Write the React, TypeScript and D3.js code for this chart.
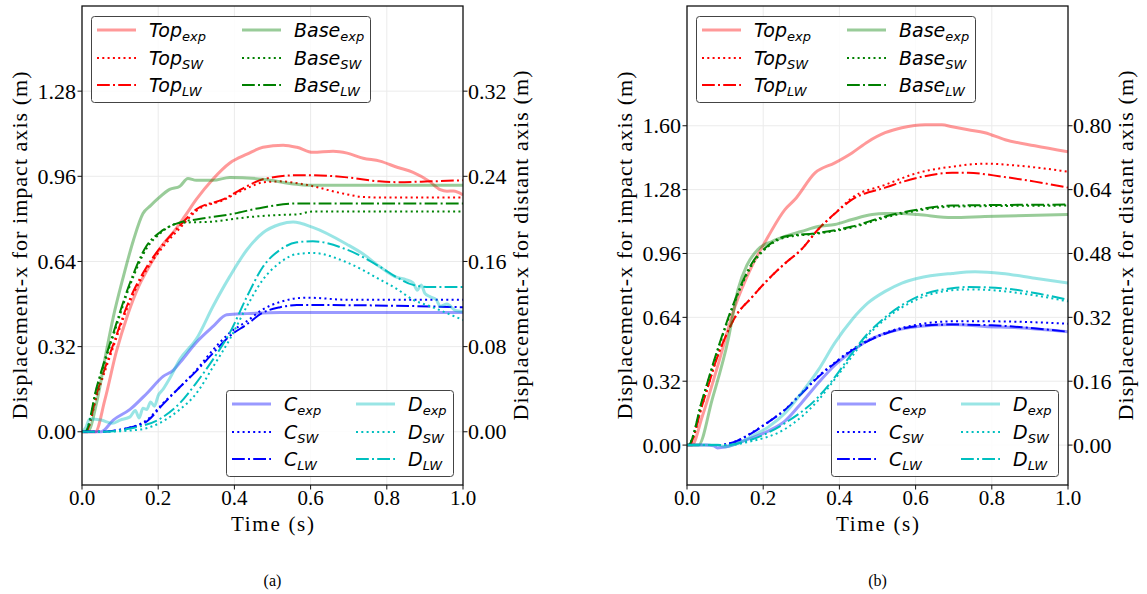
import React from 'react';
import * as d3 from 'd3';

type Pt = [number, number];

// ---------- ticks ----------
const xTicks = [0, 0.2, 0.4, 0.6, 0.8, 1.0];
const aImpactTicks = [0, 0.32, 0.64, 0.96, 1.28];
const aDistantTicks = [0, 0.08, 0.16, 0.24, 0.32];
const bImpactTicks = [0, 0.32, 0.64, 0.96, 1.28, 1.6];
const bDistantTicks = [0, 0.16, 0.32, 0.48, 0.64, 0.8];
const aImpactDomain: Pt = [-0.2, 1.6];
const aDistantDomain: Pt = [-0.05, 0.4];
const bImpactDomain: Pt = [-0.2, 2.2];
const bDistantDomain: Pt = [-0.1, 1.1];

// ---------- panel (a) : impact axis ----------
const aTopExp: Pt[] = [[0,0],[0.035,0],[0.06,0.12],[0.09,0.3],[0.12,0.44],[0.15,0.55],[0.18,0.63],[0.21,0.70],[0.24,0.75],[0.27,0.81],[0.3,0.873],[0.344,0.95],[0.388,1.01],[0.433,1.043],[0.475,1.069],[0.528,1.077],[0.564,1.069],[0.606,1.05],[0.659,1.054],[0.696,1.047],[0.738,1.028],[0.782,1.017],[0.827,0.994],[0.869,0.975],[0.913,0.94],[0.94,0.91],[0.958,0.904],[0.975,0.905],[1.0,0.89]];
const aTopSW: Pt[] = [[0,0],[0.01,0],[0.04,0.14],[0.08,0.31],[0.126,0.49],[0.17,0.61],[0.21,0.69],[0.26,0.77],[0.3,0.83],[0.37,0.87],[0.433,0.915],[0.475,0.937],[0.52,0.941],[0.56,0.935],[0.606,0.923],[0.65,0.907],[0.696,0.892],[0.74,0.882],[0.8,0.88],[1.0,0.88]];
const aTopLW: Pt[] = [[0,0],[0.01,0],[0.04,0.15],[0.08,0.32],[0.126,0.50],[0.17,0.62],[0.21,0.70],[0.26,0.78],[0.3,0.836],[0.37,0.873],[0.433,0.923],[0.475,0.949],[0.564,0.964],[0.606,0.964],[0.696,0.956],[0.78,0.941],[0.827,0.938],[0.913,0.941],[1.0,0.945]];
const aBaseExp: Pt[] = [[0,0],[0.015,0],[0.04,0.12],[0.065,0.31],[0.082,0.43],[0.108,0.58],[0.135,0.72],[0.16,0.82],[0.18,0.85],[0.197,0.873],[0.23,0.911],[0.257,0.923],[0.278,0.952],[0.3,0.945],[0.344,0.945],[0.388,0.956],[0.475,0.949],[0.564,0.93],[0.606,0.926],[1.0,0.926]];
const aBaseSW: Pt[] = [[0,0],[0.008,0],[0.039,0.165],[0.082,0.36],[0.126,0.55],[0.17,0.69],[0.205,0.745],[0.257,0.785],[0.344,0.79],[0.433,0.806],[0.52,0.815],[0.564,0.817],[0.606,0.828],[1.0,0.828]];
const aBaseLW: Pt[] = [[0,0],[0.008,0],[0.039,0.17],[0.082,0.37],[0.126,0.56],[0.17,0.70],[0.205,0.75],[0.257,0.787],[0.3,0.798],[0.388,0.817],[0.475,0.843],[0.564,0.858],[1.0,0.858]];
// ---------- panel (a) : distant axis ----------
const aCExp: Pt[] = [[0,0],[0.05,0],[0.082,0.011],[0.126,0.021],[0.17,0.036],[0.213,0.052],[0.24,0.058],[0.257,0.065],[0.3,0.084],[0.344,0.099],[0.38,0.110],[0.433,0.111],[0.52,0.112],[1.0,0.112]];
const aCSW: Pt[] = [[0,0],[0.04,0],[0.126,0.004],[0.17,0.011],[0.213,0.027],[0.257,0.042],[0.3,0.058],[0.344,0.077],[0.388,0.093],[0.433,0.104],[0.475,0.115],[0.52,0.122],[0.59,0.126],[0.7,0.124],[1.0,0.124]];
const aCLW: Pt[] = [[0,0],[0.04,0],[0.126,0.004],[0.17,0.0097],[0.213,0.026],[0.257,0.042],[0.3,0.057],[0.344,0.074],[0.388,0.09],[0.433,0.101],[0.475,0.112],[0.52,0.117],[0.564,0.119],[0.65,0.119],[1.0,0.117]];
const aDExp: Pt[] = [[0,0],[0.01,0.004],[0.02,0.012],[0.05,0.011],[0.08,0.008],[0.1,0.011],[0.126,0.014],[0.14,0.02],[0.15,0.013],[0.16,0.022],[0.17,0.021],[0.18,0.028],[0.19,0.024],[0.2,0.034],[0.213,0.04],[0.23,0.05],[0.257,0.068],[0.3,0.087],[0.344,0.118],[0.388,0.146],[0.433,0.171],[0.475,0.187],[0.52,0.195],[0.554,0.197],[0.606,0.192],[0.696,0.176],[0.738,0.167],[0.782,0.155],[0.827,0.145],[0.85,0.143],[0.869,0.14],[0.88,0.133],[0.89,0.138],[0.9,0.13],[0.913,0.127],[0.93,0.124],[0.94,0.118],[0.958,0.12],[0.98,0.114],[1.0,0.113]];
const aDSW: Pt[] = [[0,0],[0.05,0],[0.15,0.002],[0.213,0.01],[0.257,0.021],[0.3,0.036],[0.344,0.061],[0.388,0.087],[0.433,0.118],[0.475,0.143],[0.52,0.159],[0.564,0.167],[0.606,0.168],[0.696,0.159],[0.782,0.143],[0.827,0.134],[0.869,0.124],[0.913,0.118],[1.0,0.105]];
const aDLW: Pt[] = [[0,0],[0.05,0],[0.126,0.003],[0.213,0.014],[0.257,0.027],[0.3,0.046],[0.344,0.068],[0.388,0.093],[0.433,0.127],[0.475,0.155],[0.52,0.171],[0.564,0.178],[0.606,0.179],[0.696,0.171],[0.782,0.155],[0.827,0.145],[0.869,0.138],[0.913,0.136],[1.0,0.136]];

// ---------- panel (b) : impact axis ----------
const bTopExp: Pt[] = [[0,0],[0.013,0],[0.04,0.143],[0.08,0.393],[0.126,0.694],[0.17,0.895],[0.213,1.045],[0.257,1.18],[0.283,1.23],[0.336,1.364],[0.388,1.414],[0.433,1.464],[0.475,1.52],[0.52,1.565],[0.564,1.59],[0.625,1.605],[0.669,1.605],[0.696,1.595],[0.738,1.58],[0.782,1.565],[0.835,1.53],[0.913,1.50],[1.0,1.47]];
const bTopSW: Pt[] = [[0,0],[0.005,0],[0.04,0.2],[0.085,0.47],[0.11,0.58],[0.126,0.64],[0.17,0.74],[0.213,0.83],[0.257,0.91],[0.3,0.98],[0.344,1.08],[0.388,1.16],[0.433,1.239],[0.52,1.304],[0.606,1.364],[0.696,1.395],[0.782,1.41],[0.869,1.40],[1.0,1.37]];
const bTopLW: Pt[] = [[0,0],[0.005,0],[0.04,0.2],[0.085,0.47],[0.11,0.58],[0.126,0.64],[0.17,0.74],[0.213,0.83],[0.257,0.91],[0.3,0.98],[0.344,1.08],[0.388,1.16],[0.433,1.23],[0.52,1.29],[0.606,1.34],[0.696,1.364],[0.738,1.364],[0.827,1.345],[0.913,1.32],[1.0,1.29]];
const bBaseExp: Pt[] = [[0,0],[0.03,0],[0.066,0.228],[0.108,0.528],[0.134,0.78],[0.157,0.90],[0.186,0.98],[0.223,1.02],[0.257,1.045],[0.3,1.07],[0.344,1.095],[0.388,1.105],[0.433,1.13],[0.486,1.155],[0.52,1.16],[0.564,1.16],[0.606,1.155],[0.696,1.14],[0.782,1.145],[1.0,1.155]];
const bBaseSW: Pt[] = [[0,0],[0.003,0],[0.04,0.225],[0.08,0.47],[0.126,0.72],[0.17,0.9],[0.213,0.995],[0.257,1.04],[0.344,1.06],[0.433,1.09],[0.52,1.14],[0.606,1.175],[0.696,1.195],[1.0,1.2]];
const bBaseLW: Pt[] = [[0,0],[0.003,0],[0.04,0.228],[0.08,0.478],[0.126,0.728],[0.17,0.91],[0.213,1.0],[0.257,1.045],[0.344,1.063],[0.433,1.095],[0.52,1.145],[0.606,1.18],[0.696,1.20],[1.0,1.205]];
// ---------- panel (b) : distant axis ----------
const bCExp: Pt[] = [[0,0],[0.05,0],[0.07,-0.002],[0.08,-0.007],[0.1,-0.005],[0.13,0.004],[0.17,0.018],[0.213,0.035],[0.257,0.06],[0.3,0.105],[0.344,0.155],[0.388,0.2],[0.433,0.235],[0.475,0.262],[0.52,0.28],[0.606,0.297],[0.696,0.302],[0.782,0.297],[0.869,0.294],[1.0,0.284]];
const bCSW: Pt[] = [[0,0],[0.08,0],[0.13,0.01],[0.17,0.031],[0.213,0.058],[0.257,0.089],[0.3,0.13],[0.344,0.172],[0.388,0.207],[0.433,0.239],[0.52,0.281],[0.606,0.302],[0.696,0.31],[0.8,0.31],[1.0,0.304]];
const bCLW: Pt[] = [[0,0],[0.08,0],[0.13,0.01],[0.17,0.03],[0.213,0.057],[0.257,0.088],[0.3,0.128],[0.344,0.17],[0.388,0.205],[0.433,0.237],[0.52,0.279],[0.606,0.298],[0.696,0.302],[0.8,0.3],[1.0,0.284]];
const bDExp: Pt[] = [[0,0],[0.08,0],[0.1,-0.004],[0.13,0.003],[0.17,0.022],[0.213,0.045],[0.257,0.080],[0.3,0.13],[0.344,0.187],[0.388,0.256],[0.433,0.314],[0.475,0.356],[0.52,0.385],[0.564,0.406],[0.606,0.418],[0.696,0.43],[0.756,0.434],[0.827,0.43],[0.913,0.418],[1.0,0.406]];
const bDSW: Pt[] = [[0,0],[0.1,0],[0.17,0.01],[0.257,0.04],[0.344,0.112],[0.388,0.165],[0.433,0.222],[0.475,0.275],[0.52,0.315],[0.606,0.366],[0.696,0.388],[0.738,0.39],[0.827,0.386],[0.913,0.375],[1.0,0.36]];
const bDLW: Pt[] = [[0,0],[0.1,0],[0.17,0.014],[0.257,0.055],[0.344,0.12],[0.388,0.17],[0.433,0.23],[0.475,0.28],[0.52,0.32],[0.606,0.372],[0.696,0.393],[0.738,0.396],[0.827,0.393],[0.913,0.381],[1.0,0.364]];

type Kind = 'exp' | 'sw' | 'lw';
interface Series { name: string; sub: string; color: string; kind: Kind; axis: 'impact' | 'distant'; data: Pt[]; }

const RED = '#ff0000', GREEN = '#008000', BLUE = '#0000ff', CYAN = '#00bfbf';

function mk(name: string, color: string, exp: Pt[], sw: Pt[], lw: Pt[], axis: 'impact' | 'distant'): Series[] {
  return [
    { name, sub: 'exp', color, kind: 'exp', axis, data: exp },
    { name, sub: 'SW', color, kind: 'sw', axis, data: sw },
    { name, sub: 'LW', color, kind: 'lw', axis, data: lw },
  ];
}

const seriesA = {
  upper: [...mk('Top', RED, aTopExp, aTopSW, aTopLW, 'impact'), ...mk('Base', GREEN, aBaseExp, aBaseSW, aBaseLW, 'impact')],
  lower: [...mk('C', BLUE, aCExp, aCSW, aCLW, 'distant'), ...mk('D', CYAN, aDExp, aDSW, aDLW, 'distant')],
};
const seriesB = {
  upper: [...mk('Top', RED, bTopExp, bTopSW, bTopLW, 'impact'), ...mk('Base', GREEN, bBaseExp, bBaseSW, bBaseLW, 'impact')],
  lower: [...mk('C', BLUE, bCExp, bCSW, bCLW, 'distant'), ...mk('D', CYAN, bDExp, bDSW, bDLW, 'distant')],
};

function styleOf(s: Series) {
  if (s.kind === 'exp') return { stroke: s.color, strokeOpacity: 0.4, strokeWidth: 3, strokeDasharray: undefined as string | undefined };
  if (s.kind === 'sw') return { stroke: s.color, strokeOpacity: 1, strokeWidth: 2, strokeDasharray: '2,3.3' };
  return { stroke: s.color, strokeOpacity: 1, strokeWidth: 2, strokeDasharray: '12.8,3.2,2,3.2' };
}

const SERIF = 'Liberation Serif, Times New Roman, serif';
const SANS = 'DejaVu Sans, sans-serif';

function Legend({ items, bx, by, bw, col2Line, col2Text }: { items: Series[]; bx: number; by: number; bw: number; col2Line: number; col2Text: number }) {
  const rows = [14, 42, 69];
  const bh = 86;
  return (
    <g>
      <rect x={bx + 0.5} y={by + 0.5} width={bw} height={bh} rx={3} ry={3} fill="#fff" fillOpacity={0.85} stroke="#444" strokeWidth={1} />
      {items.map((s, i) => {
        const col = Math.floor(i / 3);
        const row = i % 3;
        const lx = bx + (col === 0 ? 6 : col2Line);
        const tx = bx + (col === 0 ? 58 : col2Text);
        const ly = by + rows[row];
        const st = styleOf(s);
        return (
          <g key={i}>
            <line x1={lx} x2={lx + 39} y1={ly} y2={ly} stroke={st.stroke} strokeOpacity={st.strokeOpacity} strokeWidth={st.strokeWidth} strokeDasharray={st.strokeDasharray} />
            <text x={tx} y={ly + 7} fontFamily={SANS} fontStyle="italic" fontSize={19} fill="#000">
              {s.name}
              <tspan fontSize={13} dy={4}>{s.sub}</tspan>
            </text>
          </g>
        );
      })}
    </g>
  );
}

function Panel(props: {
  left: number; id: string; series: { upper: Series[]; lower: Series[] };
  impactDomain: Pt; distantDomain: Pt; impactTicks: number[]; distantTicks: number[]; caption: string;
}) {
  const L = props.left, R = props.left + 381, T = 6, B = 485;
  const x = d3.scaleLinear().domain([0, 1]).range([L, R]);
  const yI = d3.scaleLinear().domain(props.impactDomain).range([B, T]);
  const yD = d3.scaleLinear().domain(props.distantDomain).range([B, T]);
  const all = [...props.series.upper, ...props.series.lower];
  const line = (s: Series) => {
    const y = s.axis === 'impact' ? yI : yD;
    return d3.line<Pt>().x(d => x(d[0])).y(d => y(d[1])).curve(d3.curveMonotoneX)(s.data) || '';
  };
  const fmt2 = d3.format('.2f');
  const fmt1 = d3.format('.1f');
  const cx = (L + R) / 2;
  const cy = (T + B) / 2;
  return (
    <g>
      <defs>
        <clipPath id={props.id}><rect x={L} y={T} width={R - L} height={B - T} /></clipPath>
      </defs>
      {/* grid */}
      {xTicks.map((t, i) => <line key={'gx' + i} x1={x(t)} x2={x(t)} y1={T} y2={B} stroke="#ebebeb" strokeWidth={1} />)}
      {props.impactTicks.map((t, i) => <line key={'gy' + i} x1={L} x2={R} y1={yI(t)} y2={yI(t)} stroke="#ebebeb" strokeWidth={1} />)}
      {/* lines */}
      <g clipPath={`url(#${props.id})`}>
        {all.map((s, i) => {
          const st = styleOf(s);
          return <path key={i} d={line(s)} fill="none" stroke={st.stroke} strokeOpacity={st.strokeOpacity} strokeWidth={st.strokeWidth} strokeDasharray={st.strokeDasharray} strokeLinejoin="round" />;
        })}
      </g>
      {/* frame */}
      <rect x={L} y={T} width={R - L} height={B - T} fill="none" stroke="#111" strokeWidth={1.3} />
      {/* x ticks */}
      {xTicks.map((t, i) => (
        <g key={'xt' + i}>
          <line x1={x(t)} x2={x(t)} y1={B} y2={B + 4.5} stroke="#111" strokeWidth={1} />
          <text x={x(t)} y={B + 20} textAnchor="middle" fontFamily={SERIF} fontSize={21} fill="#000">{fmt1(t)}</text>
        </g>
      ))}
      {/* left ticks */}
      {props.impactTicks.map((t, i) => (
        <g key={'yl' + i}>
          <line x1={L - 4.5} x2={L} y1={yI(t)} y2={yI(t)} stroke="#111" strokeWidth={1} />
          <text x={L - 6} y={yI(t)} dy="0.34em" textAnchor="end" fontFamily={SERIF} fontSize={22} fill="#000">{fmt2(t)}</text>
        </g>
      ))}
      {/* right ticks */}
      {props.distantTicks.map((t, i) => (
        <g key={'yr' + i}>
          <line x1={R} x2={R + 4.5} y1={yD(t)} y2={yD(t)} stroke="#111" strokeWidth={1} />
          <text x={R + 5} y={yD(t)} dy="0.34em" textAnchor="start" fontFamily={SERIF} fontSize={22} fill="#000">{fmt2(t)}</text>
        </g>
      ))}
      {/* axis labels */}
      <text x={cx} y={531} textAnchor="middle" fontFamily={SERIF} fontSize={21} textLength={83} lengthAdjust="spacing" fill="#000">Time (s)</text>
      <text transform={`translate(${L - 55},${cy}) rotate(-90)`} textAnchor="middle" fontFamily={SERIF} fontSize={22} textLength={348} lengthAdjust="spacing" fill="#000">Displacement-x for impact axis (m)</text>
      <text transform={`translate(${R + 65},${cy}) rotate(-90)`} textAnchor="middle" fontFamily={SERIF} fontSize={22} textLength={350} lengthAdjust="spacing" fill="#000">Displacement-x for distant axis (m)</text>
      {/* legends */}
      <Legend items={props.series.upper} bx={L + 9} by={16} bw={279} col2Line={151} col2Text={203} />
      <Legend items={props.series.lower} bx={R - 237} by={390} bw={227} col2Line={130} col2Text={182} />
      {/* caption */}
      <text x={cx} y={586} textAnchor="middle" fontFamily={SERIF} fontSize={16} fill="#000">{props.caption}</text>
    </g>
  );
}

export default function App() {
  return (
    <svg width={1147} height={594} viewBox="0 0 1147 594" style={{ position: 'absolute', left: 0, top: 0, background: '#fff' }}>
      <rect x={0} y={0} width={1147} height={594} fill="#fff" />
      <Panel left={82} id="clipA" series={seriesA} impactDomain={aImpactDomain} distantDomain={aDistantDomain} impactTicks={aImpactTicks} distantTicks={aDistantTicks} caption="(a)" />
      <Panel left={687} id="clipB" series={seriesB} impactDomain={bImpactDomain} distantDomain={bDistantDomain} impactTicks={bImpactTicks} distantTicks={bDistantTicks} caption="(b)" />
    </svg>
  );
}
